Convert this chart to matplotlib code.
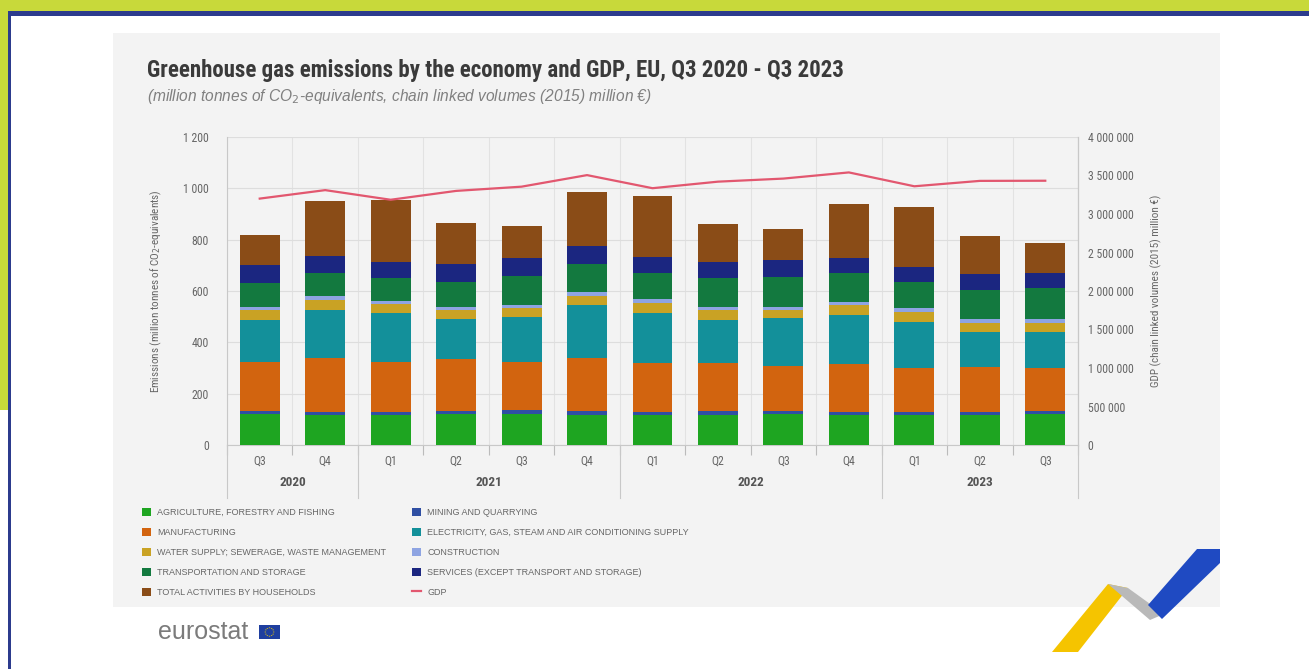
import matplotlib
matplotlib.use('Agg')
import matplotlib.pyplot as plt
from matplotlib import font_manager as fm
from matplotlib.patches import Rectangle, Polygon, Circle
from matplotlib.lines import Line2D
from matplotlib.ticker import FuncFormatter
import numpy as np

# ---------------- data ----------------
quarters = ['Q3', 'Q4', 'Q1', 'Q2', 'Q3', 'Q4', 'Q1', 'Q2', 'Q3', 'Q4', 'Q1', 'Q2', 'Q3']
years = ['2020', '2021', '2022', '2023']
year_groups = [(0, 1), (2, 5), (6, 9), (10, 12)]

agriculture = [120, 117, 116, 119, 121, 118, 116, 118, 120, 117, 115, 117, 119]
mining = [14, 13, 14, 14, 14, 14, 13, 14, 14, 13, 13, 13, 13]
manufacturing = [188, 208, 192, 201, 190, 206, 189, 189, 174, 184, 171, 173, 167]
electricity = [165, 188, 191, 156, 172, 207, 195, 166, 186, 192, 181, 138, 142]
water = [39, 39, 36, 36, 35, 37, 41, 39, 32, 39, 39, 36, 36]
construction = [13, 15, 13, 13, 13, 15, 14, 13, 13, 13, 13, 13, 13]
transport = [93, 91, 90, 97, 113, 107, 103, 113, 117, 113, 104, 114, 120]
services = [69, 65, 62, 68, 69, 71, 60, 62, 65, 56, 59, 62, 61]
households = [117, 216, 241, 160, 126, 212, 239, 147, 119, 212, 233, 148, 115]
gdp = [3200000, 3310000, 3185000, 3300000, 3355000, 3505000, 3335000,
       3420000, 3460000, 3540000, 3360000, 3430000, 3432000]

series_names = ['AGRICULTURE, FORESTRY AND FISHING', 'MINING AND QUARRYING', 'MANUFACTURING',
                'ELECTRICITY, GAS, STEAM AND AIR CONDITIONING SUPPLY',
                'WATER SUPPLY; SEWERAGE, WASTE MANAGEMENT', 'CONSTRUCTION',
                'TRANSPORTATION AND STORAGE', 'SERVICES (EXCEPT TRANSPORT AND STORAGE)',
                'TOTAL ACTIVITIES BY HOUSEHOLDS']
gdp_name = 'GDP'
series_colors = ['#1ea521', '#2f4fa3', '#d2640f', '#13909a', '#c9a224', '#8ea4e2',
                 '#13793f', '#1b2680', '#8a4c17']
gdp_color = '#e2576f'

# ---------------- fonts ----------------
avail = {f.name for f in fm.fontManager.ttflist}
narrow = None
for cand in ['Liberation Sans Narrow', 'DejaVu Sans Condensed', 'Roboto Condensed', 'Open Sans Condensed', 'Liberation Sans']:
    if cand in avail:
        narrow = cand
        break
FAM = [narrow, 'DejaVu Sans']
WIDE = ['Liberation Sans', 'DejaVu Sans']
plt.rcParams['font.family'] = FAM

W, H = 1309, 669
fig = plt.figure(figsize=(W / 100, H / 100), dpi=100)
fig.patch.set_facecolor('white')


def fx(x):
    return x / W


def fy(y):
    return 1 - y / H


def prect(x0, y0, x1, y1, color, z=0):
    fig.patches.append(Rectangle((fx(x0), fy(y1)), fx(x1) - fx(x0), fy(y0) - fy(y1),
                                 transform=fig.transFigure, facecolor=color,
                                 edgecolor='none', zorder=z))


def ppoly(pts, color, z=1):
    fig.patches.append(Polygon([(fx(a), fy(b)) for a, b in pts], closed=True,
                               transform=fig.transFigure, facecolor=color,
                               edgecolor='none', zorder=z))


# frame decorations
prect(0, 0, W, 11, '#c8d93a', -5)
prect(0, 0, 8, 410, '#c8d93a', -5)
prect(8, 11, W, 16, '#2c3b8d', -5)
prect(8, 11, 11, H, '#2c3b8d', -5)
# grey panel
prect(113, 33, 1220, 607, '#f3f3f3', -5)

# ---------------- axes ----------------
L, R, T, B = 227, 1078, 137, 445
ax = fig.add_axes([fx(L), fy(B), (R - L) / W, (B - T) / H])
ax.set_zorder(5)
ax.set_facecolor('none')
x = np.arange(len(quarters))
all_series = [agriculture, mining, manufacturing, electricity, water, construction,
              transport, services, households]
bottom = np.zeros(len(quarters))
containers = []
for vals, name, col in zip(all_series, series_names, series_colors):
    c = ax.bar(x, vals, width=0.61, bottom=bottom, color=col, label=name, zorder=3)
    containers.append(c)
    bottom = bottom + np.array(vals)

ax.set_xlim(-0.5, len(quarters) - 0.5)
ax.set_ylim(0, 1200)
ax.set_yticks(np.arange(0, 1201, 200))
ax.yaxis.set_major_formatter(FuncFormatter(lambda v, p: f'{int(v):,}'.replace(',', ' ')))
ax.tick_params(axis='y', length=0, pad=13, labelsize=8.5, labelcolor='#666666')
ax.grid(axis='y', color='#dddddd', linewidth=0.8, zorder=0)
ax.set_xticks(x)
ax.set_xticklabels(quarters)
ax.set_xticks(np.arange(-0.5, len(quarters), 1), minor=True)
ax.tick_params(axis='x', which='major', length=0, pad=7, labelsize=8.5, labelcolor='#666666')
ax.tick_params(axis='x', which='minor', length=7, color='#bbbbbb', width=0.8)
ax.grid(axis='x', which='minor', color='#e2e2e2', linewidth=0.8, zorder=0)
ax.spines['top'].set_visible(False)
for s in ['left', 'right', 'bottom']:
    ax.spines[s].set_color('#c8c8c8')
    ax.spines[s].set_linewidth(0.8)

ax.set_ylabel('Emissions (million tonnes of CO$_2$-equivalents)', fontsize=8,
              color='#666666', labelpad=14)

# year separators and labels
trans = ax.get_xaxis_transform()
for i, (a, b) in enumerate(year_groups):
    ax.text((a + b) / 2, -0.122, years[i], transform=trans, ha='center', va='center',
            fontsize=9.5, color='#555555', fontweight='bold')
for xb in [-0.5, 1.5, 5.5, 9.5, 12.5]:
    ax.add_line(Line2D([xb, xb], [0, -0.172], transform=trans, color='#c8c8c8',
                       linewidth=0.8, clip_on=False))

ax2 = ax.twinx()
ax2.set_zorder(6)
ax2.set_ylim(0, 4000000)
ax2.set_yticks(np.arange(0, 4000001, 500000))
ax2.yaxis.set_major_formatter(FuncFormatter(lambda v, p: f'{int(v):,}'.replace(',', ' ')))
ax2.tick_params(axis='y', length=0, pad=7, labelsize=8.5, labelcolor='#666666')
for s in ['top', 'left', 'bottom']:
    ax2.spines[s].set_visible(False)
ax2.spines['right'].set_color('#c8c8c8')
ax2.spines['right'].set_linewidth(0.8)
gl, = ax2.plot(x, gdp, color=gdp_color, linewidth=1.6, label=gdp_name, zorder=5)
ax2.set_ylabel('GDP (chain linked volumes (2015) million €)', fontsize=8,
               color='#666666', labelpad=12)

# ---------------- titles ----------------
fig.text(fx(147), fy(70), 'Greenhouse gas emissions by the economy and GDP, EU, Q3 2020 - Q3 2023',
         fontsize=16.5, fontweight='bold', color='#3a3a3a', va='center', ha='left')
fig.text(fx(147), fy(97), '(million tonnes of CO$_2$-equivalents, chain linked volumes (2015) million €)',
         fontsize=11.2, style='italic', color='#808080', va='center', ha='left', family=WIDE)

# ---------------- legends ----------------
handles = [c.patches[0] for c in containers] + [gl]
labels = series_names + [gdp_name]
left_idx = [0, 2, 4, 6, 8]
right_idx = [1, 3, 5, 7, 9]
common = dict(frameon=False, labelcolor='#666666', handlelength=1.0,
              handleheight=1.0, handletextpad=0.7, labelspacing=1.2, borderpad=0,
              borderaxespad=0, loc='upper left', prop={'family': WIDE, 'size': 6.5})
leg1 = fig.legend([handles[i] for i in left_idx], [labels[i] for i in left_idx],
                  bbox_to_anchor=(fx(142), fy(508)), **common)
leg2 = fig.legend([handles[i] for i in right_idx], [labels[i] for i in right_idx],
                  bbox_to_anchor=(fx(412), fy(508)), **common)

# ---------------- eurostat logo ----------------
fig.text(fx(158), fy(632), 'eurostat', fontsize=18, color='#7b7b7b', va='center', ha='left',
         family=WIDE)
prect(259, 625, 280, 639, '#1f3f9f', 2)
for k in range(12):
    ang = 2 * np.pi * k / 12
    fig.patches.append(Circle((fx(269.5 + 4.2 * np.cos(ang)), fy(632 + 4.2 * np.sin(ang))),
                              0.0006, transform=fig.transFigure, facecolor='#f3d000',
                              edgecolor='none', zorder=3))

# ---------------- ribbon decoration ----------------
ppoly([(1052, 652), (1078, 652), (1128, 588), (1108, 584)], '#f5c400', 2)
ppoly([(1108, 584), (1128, 588), (1164, 614), (1150, 620)], '#b9b9b9', 2)
ppoly([(1148, 605), (1162, 619), (1220, 563), (1220, 549), (1197, 549)], '#1f4ac2', 2)

fig.savefig('out.png', dpi=100, facecolor=fig.get_facecolor())
